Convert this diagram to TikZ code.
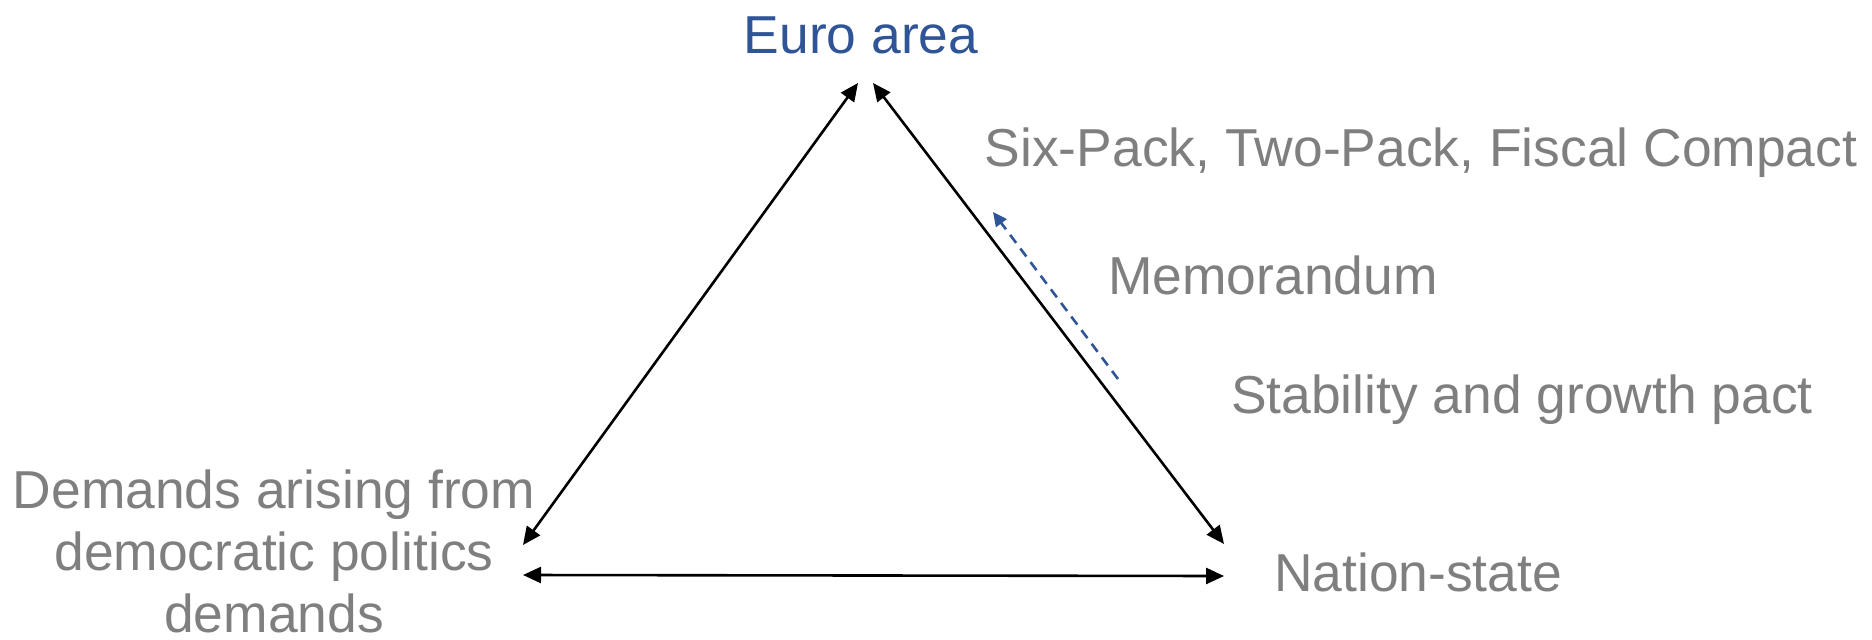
\documentclass[tikz,border=0pt]{standalone}
\usepackage{fontspec}
\setmainfont{Liberation Sans}
\usetikzlibrary{arrows.meta}
\definecolor{euroblue}{HTML}{2F5597}
\definecolor{textgray}{HTML}{7F7F7F}
\tikzset{lbl/.style={inner sep=0pt,anchor=base,text=textgray,font=\fontsize{26.7pt}{31pt}\selectfont,align=center},arrow/.style={{Triangle[length=9pt,width=8pt]}-{Triangle[length=9pt,width=8pt]},line width=1.3pt,draw=black},pull/.style={-{Triangle[length=7pt,width=6.5pt]},line width=1.3pt,draw=euroblue,dash pattern=on 5pt off 3.5pt}}

\begin{document}
\begin{tikzpicture}[x=0.5pt,y=0.5pt]
\useasboundingbox (0,0) rectangle (1872,639);
\node[lbl,text=euroblue] (euro) at (861,586) {Euro area};
\node[lbl] (nation) at (1418,48) {Nation-state};
\node[lbl,text depth=0pt] (demands) at (274,7) {Demands arising from\\democratic politics\\demands};
\node[lbl] (sixpack) at (1421,473) {Six-Pack, Two-Pack, Fiscal Compact};
\node[lbl] (memo) at (1273,345) {Memorandum};
\node[lbl] (sgp) at (1522,226) {Stability and growth pact};
% corners of the triangle
\coordinate (topL) at (858,556);
\coordinate (topR) at (873,556);
\coordinate (botL) at (523,94);
\coordinate (botR) at (1224,95);
\coordinate (baseL) at (523,64);
\coordinate (baseR) at (1224,63);
\coordinate (pullS) at (1118,260);
\coordinate (pullE) at (993,427);
\draw[arrow] (botL) -- (topL);
\draw[arrow] (botR) -- (topR);
\draw[arrow] (baseL) -- (baseR);
\draw[pull] (pullS) -- (pullE);
\end{tikzpicture}
\end{document}
